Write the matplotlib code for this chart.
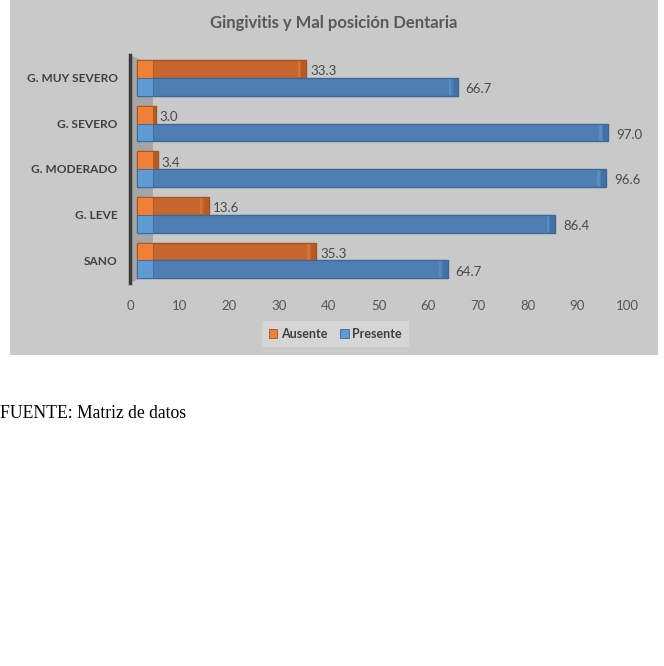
import numpy as np
import matplotlib.pyplot as plt
from matplotlib.patches import Rectangle, Polygon

categorias = ["SANO", "G. LEVE", "G. MODERADO", "G. SEVERO", "G. MUY SEVERO"]
ausente = [35.3, 13.6, 3.4, 3.0, 33.3]
presente = [64.7, 86.4, 96.6, 97.0, 66.7]
ticks_x = [0, 10, 20, 30, 40, 50, 60, 70, 80, 90, 100]

plt.rcParams["font.family"] = ["Lato", "DejaVu Sans"]

fig = plt.figure(figsize=(6.64, 6.66), dpi=100)
fig.patch.set_facecolor("white")

# gray chart panel (behind the axes)
panel = Rectangle((0.015, 0.467), 0.976, 0.533, transform=fig.transFigure,
                  facecolor="#c9c9c9", edgecolor="none", zorder=-10)
fig.patches.append(panel)

ax = fig.add_axes([0.1958, 0.5751, 0.7485, 0.3423])
ax.set_facecolor("none")
ax.set_zorder(2)

# 3D side wall
ax.add_patch(Polygon([(0, 1.0), (0.046, 0.955), (0.046, 0.045), (0, 0.0)], closed=True,
                     transform=ax.transAxes, facecolor="#a5a5a5", edgecolor="none", zorder=1))

y = np.arange(len(categorias))
h = 0.39
start = 1.5
cap = 3.2
# (values, y offset, body, front face, edge, 3D depth shift at the end)
series = [
    (ausente, 0.19, "#c5672f", "#ef8035", "#a9531f", 2.2),
    (presente, -0.2, "#4f7fb2", "#5e9bd4", "#3b679a", -0.8),
]
for vals, off, body, front, edge, shift in series:
    vals = np.array(vals)
    ends = vals + shift
    ax.barh(y + off, ends - start, left=start, height=h, color=body,
            edgecolor=edge, linewidth=1.0, zorder=3)
    # dark end face
    ax.barh(y + off, 1.0, left=ends - 1.0, height=h, color=edge,
            alpha=0.55, edgecolor="none", zorder=4)
    # light front cap at the wall
    ax.barh(y + off, cap, left=start, height=h, color=front,
            edgecolor=edge, linewidth=0.6, zorder=5)
    # light rim near the end
    ax.barh(y + off, 0.5, left=ends - 1.8, height=h * 0.9, color=front,
            alpha=0.5, edgecolor="none", zorder=4)
    lab_x = ends + 0.8 if shift > 0 else vals + 0.8
    for yi, lx, v in zip(y + off, lab_x, vals):
        ax.text(lx, yi - 0.05, f"{v:.1f}", va="center", ha="left",
                fontsize=9.5, color="#4a4a4a", zorder=6)

ax.set_xlim(0, 100)
ax.set_ylim(-0.5, 4.5)
ax.set_xticks(ticks_x)
ax.set_xticklabels([str(t) for t in ticks_x], fontsize=9.5, color="#555555")
ax.set_yticks(y)
ax.set_yticklabels(categorias, fontsize=8.6, fontweight="bold", color="#404040")
ax.tick_params(axis="both", length=0)
ax.tick_params(axis="x", pad=12)
ax.tick_params(axis="y", pad=9)
for s in ["top", "right", "bottom"]:
    ax.spines[s].set_visible(False)
ax.spines["left"].set_linewidth(2.5)
ax.spines["left"].set_color("#3a3a3a")

fig.text(0.503, 0.966, "Gingivitis y Mal posición Dentaria", ha="center", va="center",
         fontsize=12, fontweight="bold", color="#595959")

h1 = Rectangle((0, 0), 1, 1, facecolor="#ef8035", edgecolor="#a9531f", linewidth=0.6)
h2 = Rectangle((0, 0), 1, 1, facecolor="#5e9bd4", edgecolor="#3b679a", linewidth=0.6)
leg = fig.legend([h1, h2], ["Ausente", "Presente"], loc="center",
                 bbox_to_anchor=(0.505, 0.4985), ncol=2, frameon=True,
                 handlelength=0.7, handleheight=0.7, handletextpad=0.3,
                 columnspacing=1.0, borderpad=0.55, fancybox=False,
                 prop={"size": 9, "weight": "bold"})
leg.get_frame().set_facecolor("#d9d9d9")
leg.get_frame().set_edgecolor("none")
for t in leg.get_texts():
    t.set_color("#404040")

fig.text(0.0, 0.379, "FUENTE: Matriz de datos", ha="left", va="center",
         fontsize=12.7, family="Liberation Serif", color="black")

fig.savefig("out.png", dpi=100)
